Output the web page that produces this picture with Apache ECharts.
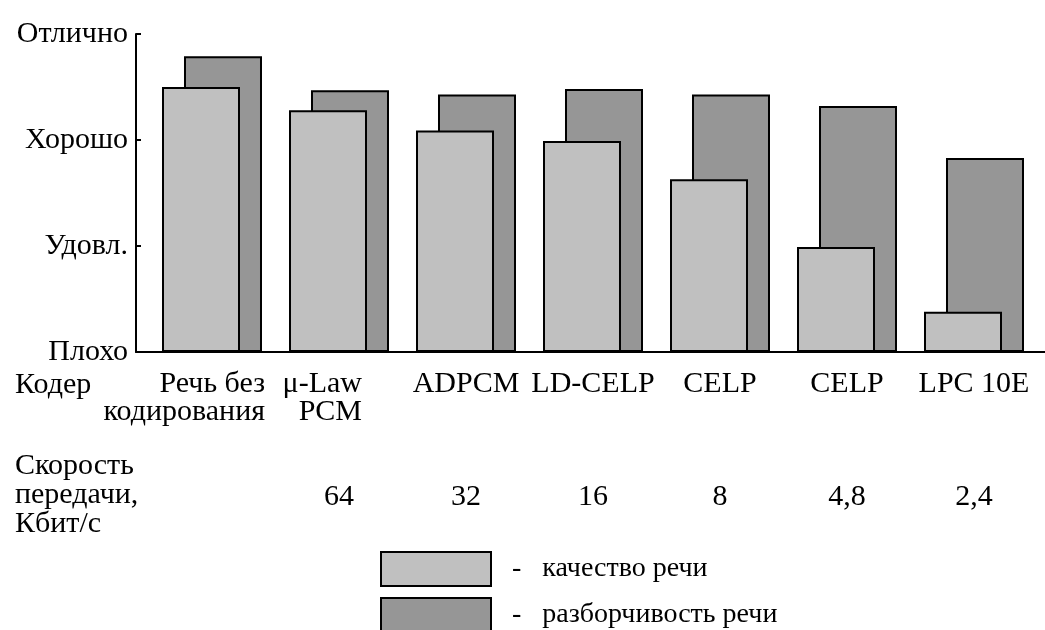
<!DOCTYPE html>
<html>
<head>
<meta charset="utf-8">
<script src="https://cdn.jsdelivr.net/npm/echarts@6/dist/echarts.min.js"></script>
<style>
  html, body { margin: 0; padding: 0; background: #fff; }
  #chart { width: 1045px; height: 630px; }
</style>
</head>
<body>
<div id="chart"></div>
<script>
// кодеры и оценки (шкала: 0 - плохо ... 3 - отлично)
const coders = ["Речь без\nкодирования", "μ-Law\nPCM", "ADPCM", "LD-CELP", "CELP", "CELP", "LPC 10E"];
const speeds = ["", "64", "32", "16", "8", "4,8", "2,4"];
const quality = [2.50, 2.28, 2.09, 1.99, 1.63, 0.99, 0.38];
const intelligibility = [2.79, 2.47, 2.43, 2.48, 2.43, 2.32, 1.83];
const levels = ["Плохо", "Удовл.", "Хорошо", "Отлично"];
const seriesNames = ["качество речи", "разборчивость речи"];

const FONT = "Liberation Serif";
const FS = 30;

const chart = echarts.init(document.getElementById("chart"));

// двухстрочные подписи выровнены вправо, как в таблице
const coderLabel = (v, i) => {
  if (i === 0) return v.split("\n").map((s) => "{r1|" + s + "}").join("\n");
  if (i === 1) return v.split("\n").map((s) => "{r2|" + s + "}").join("\n");
  return v;
};

// легенда: по одному элементу в строке
const legendItem = (name, top) => ({
  orient: "vertical",
  left: 380,
  top: top,
  padding: 0,
  itemWidth: 110,
  itemHeight: 34,
  icon: "rect",
  data: [name],
  formatter: "-   {name}",
  textStyle: { fontFamily: FONT, fontSize: 28, color: "#000", padding: [0, 0, 0, 16] },
});

const option = {
  backgroundColor: "#fff",
  animation: false,
  textStyle: { fontFamily: FONT, color: "#000" },
  grid: [
    // рамка осей
    { left: 136, right: 0, top: 34, bottom: 278 },
    // столбцы
    { left: 148.5, width: 889, top: 34, bottom: 278 },
  ],
  xAxis: [
    {
      gridIndex: 0,
      type: "value",
      min: 0,
      max: 1,
      axisLine: { show: true, lineStyle: { color: "#000", width: 2 } },
      axisTick: { show: false },
      axisLabel: { show: false },
      splitLine: { show: false },
    },
    {
      gridIndex: 1,
      type: "category",
      data: coders,
      axisLine: { show: false },
      axisTick: { show: false },
      axisLabel: {
        margin: 18,
        fontFamily: FONT,
        fontSize: FS,
        lineHeight: 28,
        color: "#000",
        interval: 0,
        formatter: coderLabel,
        rich: {
          r1: { width: 106, align: "right", fontFamily: FONT, fontSize: FS, lineHeight: 28, color: "#000" },
          r2: { width: 46, align: "right", fontFamily: FONT, fontSize: FS, lineHeight: 28, color: "#000" },
        },
      },
    },
    {
      gridIndex: 1,
      type: "category",
      position: "bottom",
      offset: 122,
      data: speeds,
      axisLine: { show: false },
      axisTick: { show: false },
      axisLabel: {
        margin: 8,
        fontFamily: FONT,
        fontSize: FS,
        color: "#000",
        interval: 0,
      },
    },
  ],
  yAxis: [
    {
      gridIndex: 0,
      type: "value",
      min: 0,
      max: 3,
      interval: 1,
      axisLine: { show: true, lineStyle: { color: "#000", width: 2 } },
      axisTick: { show: true, inside: true, length: 5, lineStyle: { color: "#000", width: 2 } },
      splitLine: { show: false },
      axisLabel: {
        margin: 8,
        fontFamily: FONT,
        fontSize: FS,
        color: "#000",
        formatter: (v) => levels[Math.round(v)],
      },
    },
    {
      gridIndex: 1,
      type: "value",
      min: 0,
      max: 3,
      show: false,
    },
  ],
  legend: [legendItem(seriesNames[0], 551), legendItem(seriesNames[1], 597)],
  graphic: [
    {
      type: "text",
      left: 15,
      top: 370,
      style: { text: "Кодер", font: FS + "px " + FONT, fill: "#000" },
    },
    {
      type: "text",
      left: 15,
      top: 451,
      style: { text: "Скорость\nпередачи,\nКбит/с", font: FS + "px " + FONT, lineHeight: 29, fill: "#000" },
    },
  ],
  series: [
    {
      name: seriesNames[0],
      type: "bar",
      xAxisIndex: 1,
      yAxisIndex: 1,
      data: quality,
      barWidth: 78,
      barGap: "-71.8%",
      z: 3,
      itemStyle: { color: "#c0c0c0", borderColor: "#000", borderWidth: 2 },
    },
    {
      name: seriesNames[1],
      type: "bar",
      xAxisIndex: 1,
      yAxisIndex: 1,
      data: intelligibility,
      barWidth: 78,
      z: 2,
      itemStyle: { color: "#969696", borderColor: "#000", borderWidth: 2 },
    },
  ],
};

chart.setOption(option);
</script>
</body>
</html>
